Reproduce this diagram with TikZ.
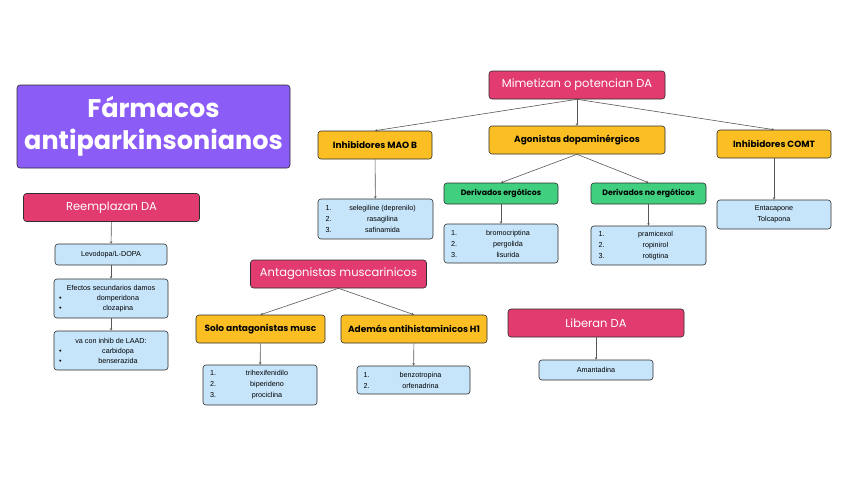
\documentclass[tikz,border=0pt]{standalone}
\usepackage{fontspec}
\setmainfont{Poppins}
\newfontfamily\listfont{Liberation Sans}
\usepackage{tikz}
\usetikzlibrary{arrows.meta,positioning}
\usepackage{xcolor}
\definecolor{titlepurple}{HTML}{8B5CF6}
\definecolor{headpink}{HTML}{E13B6F}
\definecolor{groupamber}{HTML}{FBBF24}
\definecolor{subgreen}{HTML}{3FCF7E}
\definecolor{leafblue}{HTML}{C6E5FB}
\definecolor{edgegrey}{HTML}{2E2E2E}
% one numbered / bulleted line of a drug list
\newcommand{\druga}[3]{\makebox[#1][l]{\makebox[14pt][l]{#2}\makebox[\dimexpr#1-14pt][c]{#3}}}
\newcommand{\drugb}[2]{\makebox[#1][l]{\makebox[14pt][l]{\textbullet}\makebox[\dimexpr#1-14pt][c]{#2}}}

\begin{document}
\begin{tikzpicture}[x=1pt, y=-1pt,
    anybox/.style={rectangle, draw=edgegrey, line width=0.6pt, rounded corners=3pt,
        inner sep=0pt, align=center},
    headbox/.style={anybox, fill=headpink, text=white, minimum width=176pt,
        minimum height=28pt, font=\fontsize{11.5}{13}\selectfont},
    groupbox/.style={anybox, fill=groupamber, minimum height=28pt,
        font=\fontsize{9}{11}\selectfont\bfseries},
    subbox/.style={anybox, fill=subgreen, minimum height=21pt,
        font=\fontsize{7.8}{9}\selectfont\bfseries},
    leafbox/.style={anybox, fill=leafblue, font=\listfont\fontsize{7.2}{11}\selectfont},
    link/.style={draw=edgegrey!80, line width=0.6pt, -{Stealth[length=2.5pt,width=2.5pt]}},
    >=Stealth
]
\useasboundingbox[fill=white] (0,0) rectangle (848,477);

\node[anybox, fill=titlepurple, text=white, minimum width=273pt, minimum height=83pt,
      font=\fontsize{25.5}{32}\selectfont\bfseries] (title) at (153.5,126.5)
      {F\'armacos\\antiparkinsonianos};

% reemplazan
\node[headbox] (reemp) at (111.5,207.5) {Reemplazan DA};
\node[leafbox, minimum width=112pt, minimum height=21pt] (levo) at (111,254.5) {Levodopa/L-DOPA};
\node[leafbox, minimum width=114pt, minimum height=39pt, font=\listfont\fontsize{7.2}{10}\selectfont] (efectos) at (111,298.5)
    {Efectos secundarios damos\\ \drugb{104pt}{domperidona}\\ \drugb{104pt}{clozapina}};
\node[leafbox, minimum width=114pt, minimum height=39pt, font=\listfont\fontsize{7.2}{10}\selectfont] (vacon) at (111,350.5)
    {va con inhib de LAAD:\\ \drugb{104pt}{carbidopa}\\ \drugb{104pt}{benserazida}};

% mimetizan
\node[headbox] (mimet) at (577,85) {Mimetizan o potencian DA};
\node[groupbox, minimum width=114pt] (mao) at (375,145) {Inhibidores MAO B};
\node[groupbox, minimum width=176pt] (agon) at (577,140) {Agonistas dopamin\'ergicos};
\node[groupbox, minimum width=114pt] (comt) at (774,144) {Inhibidores COMT};
\node[subbox, minimum width=114pt] (ergo) at (501,193.5) {Derivados erg\'oticos};
\node[subbox, minimum width=115pt] (noergo) at (648.5,193.5) {Derivados no erg\'oticos};
\node[leafbox, minimum width=115pt, minimum height=40pt] (maolist) at (375.5,219)
    {\druga{100pt}{1.}{selegiline (deprenilo)}\\ \druga{100pt}{2.}{rasagilina}\\ \druga{100pt}{3.}{safinamida}};
\node[leafbox, minimum width=114pt, minimum height=39pt] (ergolist) at (501,243.5)
    {\druga{100pt}{1.}{bromocriptina}\\ \druga{100pt}{2.}{pergolida}\\ \druga{100pt}{3.}{lisurida}};
\node[leafbox, minimum width=115pt, minimum height=39pt] (noergolist) at (648.5,245.5)
    {\druga{100pt}{1.}{pramicexol}\\ \druga{100pt}{2.}{ropinirol}\\ \druga{100pt}{3.}{rotigtina}};
\node[leafbox, minimum width=114pt, minimum height=29pt] (enta) at (774,214.5)
    {Entacapone\\Tolcapona};

% antagonistas
\node[headbox] (antag) at (338.5,274) {Antagonistas muscarinicos};
\node[groupbox, minimum width=129pt] (solo) at (260.5,329) {Solo antagonistas musc};
\node[groupbox, minimum width=146pt] (ademas) at (414,329) {Adem\'as antihistaminicos H1};
\node[leafbox, minimum width=114pt, minimum height=40pt] (trilist) at (260,385)
    {\druga{100pt}{1.}{trihexifenidilo}\\ \druga{100pt}{2.}{biperideno}\\ \druga{100pt}{3.}{prociclina}};
\node[leafbox, minimum width=113pt, minimum height=28pt] (benzolist) at (413.5,380)
    {\druga{100pt}{1.}{benzotropina}\\ \druga{100pt}{2.}{orfenadrina}};

% liberan
\node[headbox] (liberan) at (596,323) {Liberan DA};
\node[leafbox, minimum width=114pt, minimum height=20pt] (amant) at (596,370) {Amantadina};

\draw[link] (reemp) -- (levo);
\draw[link] (levo) -- (efectos);
\draw[link] (efectos) -- (vacon);
\draw[link] (mimet.south) -- (mao.north);
\draw[link] (mimet.south) -- (agon.north);
\draw[link] (mimet.south) -- (comt.north);
\draw[link] (agon.south) -- (ergo.north);
\draw[link] (agon.south) -- (noergo.north);
\draw[link] (mao) -- (maolist);
\draw[link] (ergo) -- (ergolist);
\draw[link] (noergo) -- (noergolist);
\draw[link] (comt) -- (enta);
\draw[link] (antag.south) -- (solo.north);
\draw[link] (antag.south) -- (ademas.north);
\draw[link] (solo) -- (trilist);
\draw[link] (ademas) -- (benzolist);
\draw[link] (liberan) -- (amant);
\end{tikzpicture}
\end{document}
